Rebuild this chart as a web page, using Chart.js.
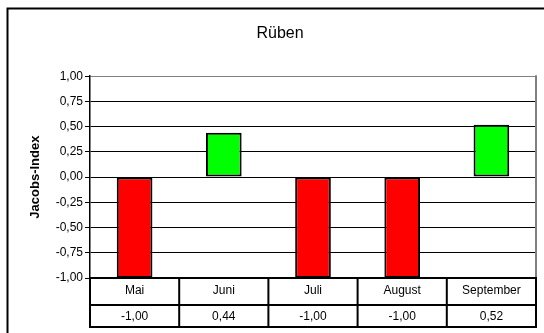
<!DOCTYPE html>
<html><head><meta charset="utf-8">
<script src="https://cdn.jsdelivr.net/npm/chart.js@4"></script>
<style>html,body{margin:0;padding:0;background:#fff;overflow:hidden}</style>
</head><body>
<canvas id="c" width="544" height="333"></canvas>
<script>
const chartTitle = 'Rüben';
const axisTitle = 'Jacobs-Index';
const categories = ['Mai', 'Juni', 'Juli', 'August', 'September'];
const values = [-1.00, 0.44, -1.00, -1.00, 0.52];
const yMin = -1, yMax = 1, yStep = 0.25;
const fmt = v => v.toFixed(2).replace('.', ',');
const FONT = "'Liberation Sans', Arial, sans-serif";

const frameAndTable = {
  id: 'frameAndTable',
  beforeDraw(chart) {
    const ctx = chart.ctx;
    ctx.save();
    ctx.fillStyle = '#fff';
    ctx.fillRect(0, 0, chart.width, chart.height);
    ctx.restore();
  },
  afterDraw(chart) {
    const {ctx, chartArea: a, scales: {x}} = chart;
    ctx.save();
    // plot area right border
    ctx.strokeStyle = '#808080';
    ctx.lineWidth = 2;
    ctx.beginPath();
    ctx.moveTo(a.right, a.top - 1);
    ctx.lineTo(a.right, a.bottom);
    ctx.stroke();
    // data table
    const n = categories.length;
    const edges = [a.left];
    for (let i = 0; i < n - 1; i++) edges.push((x.getPixelForValue(i) + x.getPixelForValue(i + 1)) / 2);
    edges.push(a.right);
    const r0 = a.bottom, r1 = a.bottom + 27, r2 = a.bottom + 49;
    ctx.strokeStyle = '#000';
    ctx.lineWidth = 2;
    ctx.beginPath();
    [r0, r1, r2].forEach(r => { ctx.moveTo(a.left, r); ctx.lineTo(a.right + 1, r); });
    edges.forEach(e => { ctx.moveTo(e, r0); ctx.lineTo(e, r2 + 1); });
    ctx.stroke();
    ctx.fillStyle = '#000';
    ctx.font = '12px ' + FONT;
    ctx.textAlign = 'center';
    ctx.textBaseline = 'middle';
    for (let i = 0; i < n; i++) {
      const cx = (edges[i] + edges[i + 1]) / 2;
      ctx.fillText(categories[i], cx, (r0 + r1) / 2 - 1);
      ctx.fillText(fmt(values[i]), cx, (r1 + r2) / 2 + 1);
    }
    // outer frame
    ctx.lineWidth = 2;
    ctx.strokeRect(7.5, 8.5, 700, 500);
    ctx.restore();
  }
};

new Chart(document.getElementById('c'), {
  type: 'bar',
  data: {
    labels: categories,
    datasets: [{
      data: values,
      backgroundColor: ctx => (ctx.raw < 0 ? '#FF0000' : '#00FF00'),
      borderColor: '#000',
      borderWidth: 2,
      borderSkipped: false,
      categoryPercentage: 1,
      barPercentage: 0.4
    }]
  },
  options: {
    responsive: false,
    animation: false,
    devicePixelRatio: 1,
    layout: { padding: { left: 24, right: 8, top: 0, bottom: 55 } },
    plugins: {
      legend: { display: false },
      tooltip: { enabled: false },
      title: {
        display: true,
        text: chartTitle,
        color: '#000',
        font: { family: FONT, size: 16, weight: 'normal' },
        padding: { top: 24, bottom: 33 }
      }
    },
    scales: {
      x: { type: 'category', display: false },
      y: {
        min: yMin,
        max: yMax,
        afterFit(scale) { scale.width = 66; },
        ticks: {
          stepSize: yStep,
          color: '#000',
          padding: 2,
          font: { family: FONT, size: 12 },
          callback: v => fmt(v)
        },
        grid: {
          color: c => (c.tick && Math.abs(c.tick.value - yMax) < 1e-9 ? '#808080' : '#000'),
          tickColor: '#000',
          tickLength: 5,
          lineWidth: 1
        },
        border: { display: true, color: '#000', width: 1.5 },
        title: {
          display: true,
          text: axisTitle,
          color: '#000',
          font: { family: FONT, size: 13, weight: 'bold' },
          padding: { top: 4, bottom: 0 }
        }
      }
    }
  },
  plugins: [frameAndTable]
});
</script>
</body></html>
